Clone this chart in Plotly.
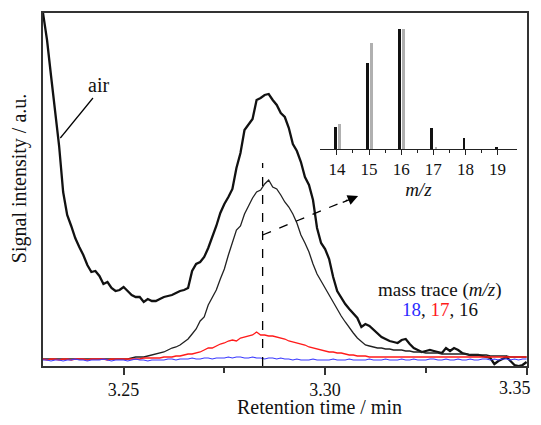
import plotly.graph_objects as go

# retention time axis (min), shared by all mass traces
time_min = [
    3.230, 3.231, 3.232, 3.233, 3.234, 3.235, 3.236, 3.237, 3.238, 3.239,
    3.240, 3.241, 3.242, 3.243, 3.244, 3.245, 3.246, 3.247, 3.248, 3.249,
    3.250, 3.251, 3.252, 3.253, 3.254, 3.255, 3.256, 3.257, 3.258, 3.259,
    3.260, 3.261, 3.262, 3.263, 3.264, 3.265, 3.266, 3.267, 3.268, 3.269,
    3.270, 3.271, 3.272, 3.273, 3.274, 3.275, 3.276, 3.277, 3.278, 3.279,
    3.280, 3.281, 3.282, 3.283, 3.284, 3.285, 3.286, 3.287, 3.288, 3.289,
    3.290, 3.291, 3.292, 3.293, 3.294, 3.295, 3.296, 3.297, 3.298, 3.299,
    3.300, 3.301, 3.302, 3.303, 3.304, 3.305, 3.306, 3.307, 3.308, 3.309,
    3.310, 3.311, 3.312, 3.313, 3.314, 3.315, 3.316, 3.317, 3.318, 3.319,
    3.320, 3.321, 3.322, 3.323, 3.324, 3.325, 3.326, 3.327, 3.328, 3.329,
    3.330, 3.331, 3.332, 3.333, 3.334, 3.335, 3.336, 3.337, 3.338, 3.339,
    3.340, 3.341, 3.342, 3.343, 3.344, 3.345, 3.346, 3.347, 3.348, 3.349,
    3.350,
]

# m/z 16 trace of air
air_16 = [
    353, 326, 290, 256, 220, 174, 151, 140, 128, 119,
    111, 101, 94, 95, 90, 82, 84, 78, 75, 76,
    79, 75, 71, 69, 69, 64, 67, 65, 65, 67,
    69, 70, 71, 73, 75, 76, 78, 95, 102, 104,
    109, 118, 128, 140, 153, 162, 169, 177, 198, 213,
    236, 242, 247, 266, 268, 271, 272, 266, 261, 253,
    249, 238, 222, 215, 204, 189, 181, 166, 138, 123,
    117, 107, 89, 75, 68, 62, 57, 53, 48, 39,
    42, 40, 36, 33, 29, 27, 25, 24, 23, 26,
    27, 22, 18, 16, 14, 15, 16, 15, 14, 13,
    18, 15, 18, 16, 13, 12, 11, 11, 11, 10,
    9, 8, 2, 5, 7, 9, 5, 1, 0, 1, 4,
]

# sample mass traces
trace_16 = [
    7, 7, 7, 7, 7, 7, 7, 7, 7, 7,
    7, 7, 7, 7, 7, 7, 7, 7, 7, 7,
    7, 7, 8, 9, 9, 9, 10, 11, 12, 13,
    14, 16, 18, 19, 21, 24, 27, 32, 37, 45,
    49, 61, 69, 76, 87, 97, 111, 123, 136, 140,
    152, 160, 168, 174, 176, 182, 186, 179, 177, 171,
    164, 159, 152, 143, 131, 123, 114, 102, 92, 85,
    78, 70, 63, 56, 50, 44, 38, 33, 28, 24,
    21, 20, 19, 18, 18, 17, 17, 16, 16, 16,
    15, 15, 14, 14, 14, 13, 13, 13, 13, 12,
    12, 12, 12, 12, 12, 12, 11, 11, 11, 11,
    11, 10, 10, 10, 10, 10, 9, 9, 9, 9, 9,
]
trace_17 = [
    7, 6, 7, 7, 6, 7, 7, 6, 7, 7,
    7, 6, 7, 7, 7, 7, 6, 7, 7, 7,
    7, 7, 7, 7, 7, 8, 8, 8, 8, 8,
    9, 9, 9, 10, 10, 11, 12, 12, 13, 14,
    16, 18, 18, 20, 22, 23, 25, 26, 25, 28,
    29, 30, 31, 34, 31, 31, 30, 30, 29, 28,
    27, 25, 24, 23, 22, 21, 19, 18, 17, 16,
    15, 14, 14, 13, 13, 12, 11, 11, 10, 10,
    10, 9, 9, 9, 9, 9, 9, 9, 9, 9,
    9, 9, 9, 9, 9, 9, 9, 9, 9, 9,
    9, 9, 9, 9, 9, 9, 9, 9, 9, 9,
    9, 9, 9, 9, 9, 9, 9, 9, 9, 9, 9,
]
trace_18 = [
    6, 6, 5, 6, 6, 5, 6, 6, 7, 6,
    6, 5, 6, 6, 6, 7, 6, 5, 6, 6,
    6, 5, 6, 7, 6, 6, 5, 6, 6, 6,
    6, 7, 7, 6, 7, 7, 7, 8, 7, 7,
    8, 8, 7, 8, 8, 8, 9, 8, 9, 9,
    8, 8, 9, 8, 8, 7, 8, 8, 7, 8,
    7, 7, 6, 7, 6, 6, 6, 7, 6, 6,
    6, 6, 7, 6, 6, 6, 7, 6, 6, 6,
    6, 7, 6, 6, 6, 7, 6, 6, 6, 7,
    6, 6, 7, 6, 6, 6, 7, 7, 6, 6,
    7, 6, 6, 7, 6, 6, 7, 6, 6, 7,
    7, 6, 7, 6, 7, 7, 6, 7, 6, 7, 7,
]

# inset: mass spectrum at the peak maximum
mz = [14, 15, 16, 17, 18, 19]
spectrum_sample = [18, 71, 100, 17.5, 9, 1]
spectrum_reference = [21, 88, 100, 1, 0, 0]

peak_time = 3.2845

serif = "Liberation Serif, Times New Roman, serif"

fig = go.Figure()
fig.add_trace(go.Scatter(x=time_min, y=air_16, mode="lines",
                         line=dict(color="#111111", width=2.3)))
fig.add_trace(go.Scatter(x=time_min, y=trace_16, mode="lines",
                         line=dict(color="#222222", width=1.3)))
fig.add_trace(go.Scatter(x=time_min, y=trace_17, mode="lines",
                         line=dict(color="#ff1a1a", width=1.3)))
fig.add_trace(go.Scatter(x=time_min, y=trace_18, mode="lines",
                         line=dict(color="#3a3aff", width=1.1)))

fig.add_trace(go.Bar(x=[m - 0.05 for m in mz], y=spectrum_sample, width=0.09,
                     marker=dict(color="#111111", line=dict(width=0)),
                     xaxis="x2", yaxis="y2"))
fig.add_trace(go.Bar(x=[m + 0.08 for m in mz], y=spectrum_reference, width=0.06,
                     marker=dict(color="#b0b0b0", line=dict(width=0)),
                     xaxis="x2", yaxis="y2"))

# dashed marker at the peak and arrow to the inset
fig.add_shape(type="line", x0=peak_time, x1=peak_time, y0=0, y1=203,
              line=dict(color="black", width=1.3, dash="dash"))
fig.add_shape(type="line", x0=peak_time, y0=131, x1=3.3055, y1=166,
              line=dict(color="black", width=1.3, dash="dash"))
fig.add_annotation(x=3.3082, y=170, ax=3.3040, ay=163, axref="x", ayref="y",
                   xref="x", yref="y", text="", showarrow=True,
                   arrowhead=2, arrowsize=1.6, arrowwidth=1.3, arrowcolor="black")

# "air" label with pointer
fig.add_shape(type="line", x0=3.2424, y0=268, x1=3.2343, y1=228,
              line=dict(color="black", width=1.2))
fig.add_annotation(x=3.2437, y=281, text="air", showarrow=False,
                   font=dict(family=serif, size=20, color="#111"))

fig.add_annotation(x=3.3285, y=76, text="mass trace (<i>m/z</i>)", showarrow=False,
                   font=dict(family=serif, size=19, color="#111"))
fig.add_annotation(x=3.3285, y=57,
                   text="<span style='color:#2b2bff'>18</span>, "
                        "<span style='color:#ff1a1a'>17</span>, 16",
                   showarrow=False, font=dict(family=serif, size=19, color="#111"))

# last tick label sits at the right edge, so it is right-aligned by hand
fig.add_annotation(x=3.35, y=-0.061, xref="x", yref="paper", text="3.35",
                   showarrow=False, xanchor="right", yanchor="middle", xshift=6,
                   font=dict(family=serif, size=18, color="#111"))

# axis titles placed by hand (paper units of the plot area)
fig.add_annotation(x=0.572, y=-0.117, xref="paper", yref="paper",
                   text="Retention time / min", showarrow=False,
                   xanchor="center", yanchor="middle",
                   font=dict(family=serif, size=20, color="#111"))
fig.add_annotation(x=-0.047, y=0.53, xref="paper", yref="paper",
                   text="Signal intensity / a.u.", showarrow=False, textangle=-90,
                   xanchor="center", yanchor="middle",
                   font=dict(family=serif, size=20, color="#111"))

# the page keeps its default 8 px body margin, so the figure is
# sized to fill the 541x425 window exactly without scrollbars
fig.update_layout(
    width=525, height=409, autosize=False,
    margin=dict(l=35, r=6, t=5, b=51),
    paper_bgcolor="white", plot_bgcolor="white",
    showlegend=False,
    bargap=0,
    font=dict(family=serif, size=18, color="#111"),
    xaxis=dict(
        range=[3.23, 3.3501], automargin=False,
        tickvals=[3.25, 3.30, 3.35], ticktext=["3.25", "3.30", ""],
        ticks="outside", ticklen=7, tickwidth=1.5, tickcolor="#333",
        minor=dict(tickvals=[3.275, 3.325], ticks="outside", ticklen=5,
                   tickwidth=1.5, tickcolor="#333"),
        showline=True, linecolor="#333", linewidth=1.6, mirror=True,
        showgrid=False, zeroline=False,
        tickfont=dict(size=18),
    ),
    yaxis=dict(
        range=[0, 353], automargin=False,
        showticklabels=False, ticks="",
        showline=True, linecolor="#333", linewidth=1.6, mirror=True,
        showgrid=False, zeroline=False,
    ),
    xaxis2=dict(
        domain=[0.572, 0.979], anchor="y2", automargin=False,
        range=[13.47, 19.6],
        tickvals=mz, ticks="outside", ticklen=5, tickwidth=1.3, tickcolor="#222",
        minor=dict(tickvals=[14.5, 15.5, 16.5, 17.5, 18.5], ticks="outside",
                   ticklen=3, tickwidth=1.2, tickcolor="#222"),
        showline=True, linecolor="#222", linewidth=1.3,
        showgrid=False, zeroline=False,
        tickfont=dict(size=17),
        title=dict(text="<i>m/z</i>", font=dict(size=19), standoff=2),
    ),
    yaxis2=dict(
        domain=[0.615, 0.966], anchor="x2",
        range=[0, 103],
        visible=False,
    ),
)

fig.write_html("out.html", config={"displayModeBar": False})
